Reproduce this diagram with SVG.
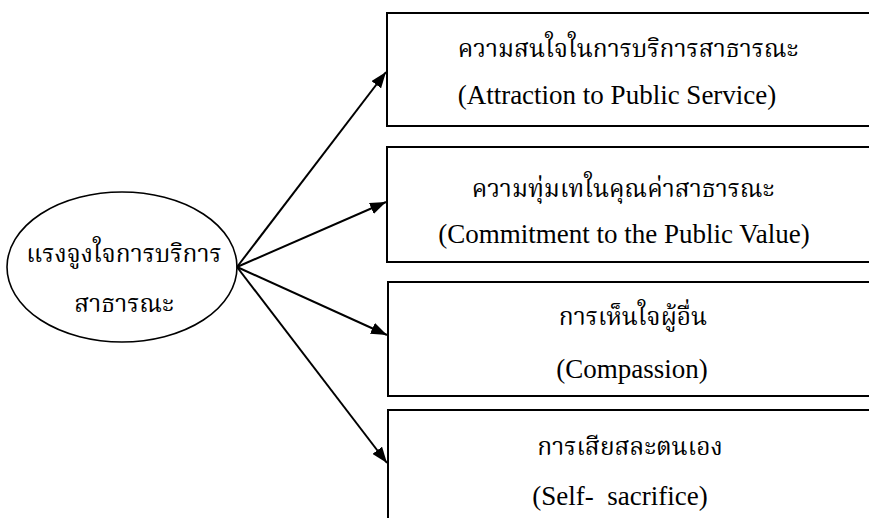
<svg xmlns="http://www.w3.org/2000/svg" width="869" height="518" viewBox="0 0 869 518">
  <style>
    .box { fill: #ffffff; stroke: #000000; stroke-width: 2; }
    .oval { fill: #ffffff; stroke: #000000; stroke-width: 1.6; }
    .th { font-family: "Kinnari", "Norasi", "Laksaman", "Noto Serif Thai", "Liberation Serif", serif; font-size: 24.5px; fill: #000000; text-anchor: middle; }
    .en { font-family: "Liberation Serif", "Times New Roman", serif; font-size: 27px; fill: #000000; text-anchor: middle; white-space: pre; }
    .edge { stroke: #000000; stroke-width: 2; fill: none; marker-end: url(#head); }
  </style>
  <defs>
    <marker id="head" viewBox="0 0 16 12" refX="16" refY="6" markerWidth="16" markerHeight="12" markerUnits="userSpaceOnUse" orient="auto">
      <path d="M0,0 L16,6 L0,12 Z" fill="#000000"/>
    </marker>
  </defs>
  <rect width="869" height="518" fill="#ffffff"/>

  <!-- central construct -->
  <g id="motivation">
    <ellipse class="oval" cx="122" cy="267" rx="115" ry="75"/>
    <text class="th" x="124" y="262">แรงจูงใจการบริการ</text>
    <text class="th" x="124" y="312">สาธารณะ</text>
  </g>

  <!-- dimensions -->
  <g id="attraction">
    <rect class="box" x="387" y="13" width="500" height="113"/>
    <text class="th" x="628" y="57">ความสนใจในการบริการสาธารณะ</text>
    <text class="en" x="617" y="104">(Attraction to Public Service)</text>
  </g>
  <g id="commitment">
    <rect class="box" x="387" y="147" width="500" height="115"/>
    <text class="th" x="623" y="197">ความทุ่มเทในคุณค่าสาธารณะ</text>
    <text class="en" x="624" y="243">(Commitment to the Public Value)</text>
  </g>
  <g id="compassion">
    <rect class="box" x="388" y="282" width="500" height="114"/>
    <text class="th" x="633" y="325">การเห็นใจผู้อื่น</text>
    <text class="en" x="632" y="378">(Compassion)</text>
  </g>
  <g id="self-sacrifice">
    <rect class="box" x="388" y="410" width="500" height="130"/>
    <text class="th" x="630" y="455">การเสียสละตนเอง</text>
    <text class="en" x="620" y="505" xml:space="preserve">(Self-  sacrifice)</text>
  </g>

  <!-- connectors -->
  <g id="connectors">
    <line class="edge" x1="237" y1="267" x2="386" y2="72"/>
    <line class="edge" x1="237" y1="267" x2="386" y2="202"/>
    <line class="edge" x1="237" y1="267" x2="387" y2="335"/>
    <line class="edge" x1="237" y1="267" x2="387" y2="463"/>
  </g>
</svg>
